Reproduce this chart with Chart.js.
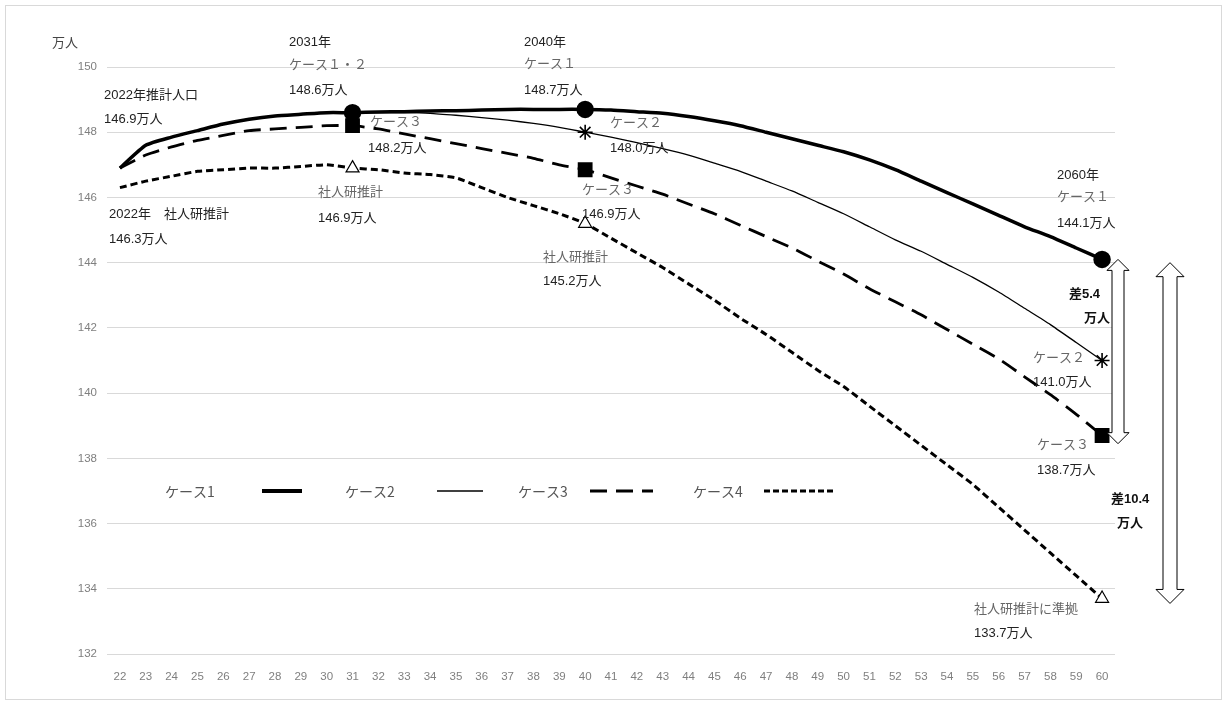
<!DOCTYPE html>
<html>
<head>
<meta charset="utf-8">
<script src="https://cdn.jsdelivr.net/npm/chart.js@4"></script>
<style>
  body { margin: 0; background: #fff; }
  #wrap { width: 1227px; height: 705px; position: relative; }
</style>
</head>
<body>
<div id="wrap"><canvas id="line-chart"></canvas></div>
<script>
var years = ["22","23","24","25","26","27","28","29","30","31","32","33","34","35","36","37","38","39","40",
  "41","42","43","44","45","46","47","48","49","50","51","52","53","54","55","56","57","58","59","60"];

var case1 = [146.9,147.6,147.85,148.05,148.25,148.4,148.5,148.55,148.6,148.6,
  148.62,148.63,148.65,148.66,148.68,148.7,148.7,148.7,148.7,
  148.68,148.63,148.58,148.48,148.35,148.2,148.0,147.8,147.6,147.4,147.15,146.85,146.5,146.15,145.8,145.45,145.1,144.8,144.45,144.1];
var case2 = [146.9,147.6,147.85,148.05,148.25,148.4,148.5,148.55,148.6,148.6,
  148.6,148.6,148.58,148.52,148.45,148.37,148.27,148.15,148.0,
  147.85,147.68,147.5,147.3,147.05,146.8,146.5,146.2,145.85,145.5,145.1,144.7,144.35,143.95,143.55,143.1,142.6,142.1,141.55,141.0];
var case3 = [146.9,147.3,147.55,147.75,147.9,148.05,148.1,148.15,148.2,148.2,
  148.1,147.95,147.8,147.65,147.5,147.35,147.2,147.0,146.85,
  146.6,146.35,146.1,145.8,145.5,145.15,144.8,144.45,144.05,143.65,143.2,142.8,142.4,141.95,141.5,141.05,140.5,139.95,139.35,138.7];
var case4 = [146.3,146.5,146.65,146.8,146.85,146.9,146.9,146.95,147.0,146.9,
  146.85,146.75,146.7,146.6,146.3,146.0,145.75,145.5,145.2,
  144.75,144.3,143.85,143.35,142.85,142.3,141.8,141.25,140.7,140.2,139.6,139.0,138.4,137.8,137.2,136.5,135.8,135.1,134.4,133.7];

var caseNames = ["ケース1", "ケース2", "ケース3", "ケース4"];
var markYears1 = ["31","40","60"];
var markYears2 = ["40","60"];

function radii(marks, r) {
  return years.map(function (y) { return marks.indexOf(y) >= 0 ? r : 0; });
}

var LATIN = "'Liberation Sans', 'Noto Sans CJK JP', sans-serif";
var JP = "'Noto Sans CJK JP', sans-serif";

// annotation texts [text, x, y, color, bold]
var notes = [
  ["2031年", 289, 42, "#222", false],
  ["ケース１・２", 289, 65, "#666", false],
  ["148.6万人", 289, 90, "#222", false],
  ["2022年推計人口", 104, 95, "#222", false],
  ["146.9万人", 104, 119, "#222", false],
  ["ケース３", 370, 122, "#666", false],
  ["148.2万人", 368, 148, "#222", false],
  ["社人研推計", 318, 192, "#666", false],
  ["146.9万人", 318, 218, "#222", false],
  ["2022年　社人研推計", 109, 214, "#222", false],
  ["146.3万人", 109, 239, "#222", false],
  ["2040年", 524, 42, "#222", false],
  ["ケース１", 524, 64, "#666", false],
  ["148.7万人", 524, 90, "#222", false],
  ["ケース２", 610, 123, "#666", false],
  ["148.0万人", 610, 148, "#222", false],
  ["ケース３", 582, 190, "#666", false],
  ["146.9万人", 582, 214, "#222", false],
  ["社人研推計", 543, 257, "#666", false],
  ["145.2万人", 543, 281, "#222", false],
  ["2060年", 1057, 175, "#222", false],
  ["ケース１", 1057, 197, "#666", false],
  ["144.1万人", 1057, 223, "#222", false],
  ["ケース２", 1033, 358, "#666", false],
  ["141.0万人", 1033, 382, "#222", false],
  ["ケース３", 1037, 445, "#666", false],
  ["138.7万人", 1037, 470, "#222", false],
  ["社人研推計に準拠", 974, 609, "#666", false],
  ["133.7万人", 974, 633, "#222", false],
  ["差5.4", 1069, 294, "#111", true],
  ["万人", 1084, 318, "#111", true],
  ["差10.4", 1111, 499, "#111", true],
  ["万人", 1117, 523, "#111", true]
];

function hollowArrow(ctx, x, yTop, yBot, shaft, head, headLen) {
  ctx.beginPath();
  ctx.moveTo(x, yTop);
  ctx.lineTo(x + head / 2, yTop + headLen);
  ctx.lineTo(x + shaft / 2, yTop + headLen);
  ctx.lineTo(x + shaft / 2, yBot - headLen);
  ctx.lineTo(x + head / 2, yBot - headLen);
  ctx.lineTo(x, yBot);
  ctx.lineTo(x - head / 2, yBot - headLen);
  ctx.lineTo(x - shaft / 2, yBot - headLen);
  ctx.lineTo(x - shaft / 2, yTop + headLen);
  ctx.lineTo(x - head / 2, yTop + headLen);
  ctx.closePath();
  ctx.fillStyle = "#fff";
  ctx.fill();
  ctx.lineWidth = 1;
  ctx.strokeStyle = "#000";
  ctx.stroke();
}

var extras = {
  id: "extras",
  afterDraw: function (chart) {
    var ctx = chart.ctx, ys = chart.scales.y;
    ctx.save();
    // frame
    ctx.strokeStyle = "#d9d9d9";
    ctx.lineWidth = 1;
    ctx.strokeRect(5.5, 5.5, 1216, 694);
    // axis unit
    ctx.fillStyle = "#444";
    ctx.font = "13px " + JP;
    ctx.textBaseline = "middle";
    ctx.fillText("万人", 52, 42);
    // legend
    var leg = [
      [caseNames[0], 165, 262, 302, 4, []],
      [caseNames[1], 345, 437, 483, 1.3, []],
      [caseNames[2], 518, 590, 653, 3, [17, 9]],
      [caseNames[3], 693, 764, 833, 3, [6, 3]]
    ];
    leg.forEach(function (l) {
      ctx.fillStyle = "#555";
      ctx.font = "14px " + JP;
      ctx.fillText(l[0], l[1], 492);
      ctx.beginPath();
      ctx.setLineDash(l[5]);
      ctx.lineWidth = l[4];
      ctx.strokeStyle = "#000";
      ctx.moveTo(l[2], 491);
      ctx.lineTo(l[3], 491);
      ctx.stroke();
    });
    ctx.setLineDash([]);
    // arrows
    hollowArrow(ctx, 1118, ys.getPixelForValue(144.1), ys.getPixelForValue(138.45), 12, 22, 11);
    hollowArrow(ctx, 1170, ys.getPixelForValue(144.0), ys.getPixelForValue(133.55), 14, 28, 14);
    // notes
    notes.forEach(function (n) {
      ctx.fillStyle = n[3];
      ctx.font = (n[4] ? "bold " : "") + "13px " + LATIN;
      ctx.textAlign = "left";
      ctx.fillText(n[0], n[1], n[2]);
    });
    ctx.restore();
  }
};

new Chart(document.getElementById("line-chart"), {
  type: "line",
  data: {
    labels: years,
    datasets: [{
      label: caseNames[0],
      data: case1,
      borderColor: "#000",
      borderWidth: 3.5,
      pointStyle: "circle",
      pointRadius: radii(markYears1, 7),
      pointBackgroundColor: "#000",
      pointBorderColor: "#000",
      tension: 0.2
    }, {
      label: caseNames[1],
      data: case2,
      borderColor: "#000",
      borderWidth: 1.3,
      pointStyle: "star",
      pointRadius: radii(markYears2, 7.5),
      pointBorderWidth: 1.6,
      pointBackgroundColor: "#000",
      pointBorderColor: "#000",
      tension: 0.2
    }, {
      label: caseNames[2],
      data: case3,
      borderColor: "#000",
      borderWidth: 2.8,
      borderDash: [17, 9],
      pointStyle: "rect",
      pointRadius: radii(markYears1, 8.5),
      pointBackgroundColor: "#000",
      pointBorderColor: "#000",
      tension: 0.2
    }, {
      label: caseNames[3],
      data: case4,
      borderColor: "#000",
      borderWidth: 3,
      borderDash: [7, 4],
      pointStyle: "triangle",
      pointRadius: radii(markYears1, 7.5),
      pointBorderWidth: 1.2,
      pointBackgroundColor: "#fff",
      pointBorderColor: "#000",
      tension: 0.2
    }]
  },
  options: {
    responsive: true,
    maintainAspectRatio: false,
    animation: false,
    layout: { padding: { left: 0, right: 112, top: 67, bottom: 21 } },
    plugins: {
      legend: { display: false },
      tooltip: { enabled: false }
    },
    scales: {
      x: {
        offset: true,
        grid: { display: false },
        border: { display: false },
        ticks: { color: "#7f7f7f", font: { family: "Liberation Sans", size: 11.5 }, maxRotation: 0, autoSkip: false, padding: 8 },
        afterFit: function (s) { s.height = 30; }
      },
      y: {
        min: 132,
        max: 150,
        grid: { color: "#d9d9d9", drawTicks: false },
        border: { display: false },
        ticks: { stepSize: 2, color: "#7f7f7f", font: { family: "Liberation Sans", size: 11.5 }, padding: 10 },
        afterFit: function (s) { s.width = 107; }
      }
    }
  },
  plugins: [extras]
});
</script>
</body>
</html>
